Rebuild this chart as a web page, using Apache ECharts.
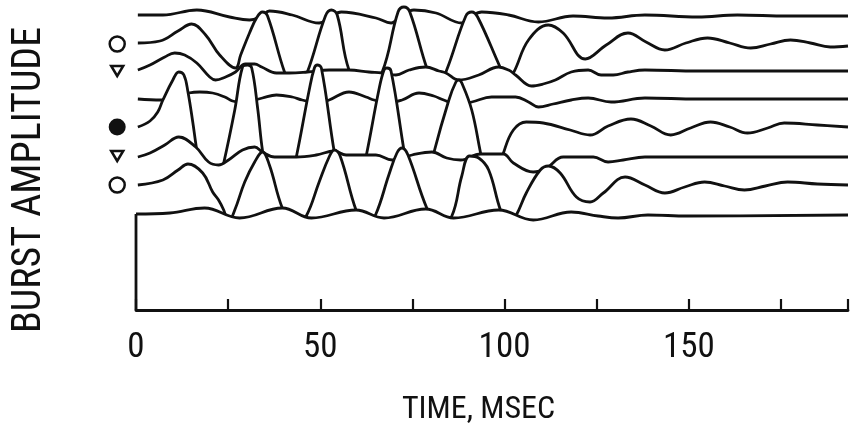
<!DOCTYPE html>
<html><head><meta charset="utf-8">
<script src="https://cdn.jsdelivr.net/npm/echarts@6/dist/echarts.min.js"></script>
<style>html,body{margin:0;padding:0;background:#fff}#c{width:851px;height:434px}</style>
</head><body><div id="c"></div>
<script>
// ---- data (time in ms, amplitude in plot units) ----
const tickLabels = ['0', '50', '100', '150'];
const traceOffsets = [294, 266, 239, 211, 183, 154, 125, 96];
const markerKinds = ['', 'openCircle', 'openTriangle', '', 'solidCircle', 'openTriangle', 'openCircle', ''];

const t1 = [0.5, 7.3, 16.5, 25.4, 30.8, 34.1, 36.2, 42.4, 49.7, 52.4, 55.7, 65.1, 69.2, 72.2, 75.4, 81.4, 88.4, 90.8, 93.8, 101.1, 109.2, 118.6, 128.1, 138.1, 152.4, 163.2, 176.8, 193.2];
const a1 = [1, 1, 6, -1, -4, 0, 5, 1, -7, -2, 4, -2, -7, 1, 6, 3, -7, -1, 4, 1, -6, 0, -2, 1, -1, 1, 0, 0];

const t2 = [0.5, 6.5, 11.4, 15.1, 18.9, 22.7, 27.0, 28.4, 30.8, 32.7, 34.3, 35.7, 40.3, 43.2, 46.5, 51.4, 53.0, 54.6, 57.8, 62.2, 66.8, 71.1, 72.7, 74.3, 78.9, 81.6, 84.3, 89.5, 91.1, 92.7, 98.9, 100.5, 102.4, 106.5, 111.9, 115.9, 121.9, 127.6, 133.5, 138.4, 143.5, 149.2, 155.1, 161.1, 166.8, 172.2, 177.6, 183.0, 188.4, 193.2];
const a2 = [1, 3, 13, 20, 9, -11, -24, -11, 11, 26, 32, 28, -28, -51, -28, 28, 34, 29, -26, -51, -28, 32, 37, 32, -24, -46, -26, 28, 32, 27, -24, -36, -29, 4, 19, 11, -15, -1, 11, 2, -6, 1, 6, 1, -4, 0, 4, 1, -3, -2];

const t3 = [0.5, 3.8, 7.8, 10.5, 13.2, 16.5, 20.0, 21.6, 24.3, 27.0, 29.7, 32.2, 34.1, 38.1, 41.6, 46.5, 52.4, 57.8, 63.2, 66.8, 70.5, 74.1, 78.6, 82.2, 84.1, 87.6, 93.0, 98.4, 101.1, 103.0, 107.3, 110.5, 113.8, 118.1, 122.7, 126.2, 129.5, 133.5, 138.1, 152.4, 168.6, 193.2];
const a3 = [1, 6, 14, 18, 16, 8, -6, -9, -6, -1, 7, 7, 4, -2, -2, -1, 1, 1, -1, -2, -4, 1, 4, 0, -2, -9, -4, 4, 1, -4, -15, -13, -9, -1, 1, -4, -4, -1, 1, 0, 0, 0];

const t4 = [0.5, 6.8, 9.2, 11.9, 14.3, 17.3, 20.8, 24.1, 26.2, 29.5, 32.2, 34.3, 38.1, 42.4, 45.1, 49.2, 52.4, 57.8, 62.4, 64.6, 68.1, 72.2, 76.8, 80.8, 83.5, 87.0, 91.1, 96.5, 103.0, 106.5, 109.2, 113.2, 118.1, 122.7, 128.9, 138.1, 152.4, 193.2];
const a4 = [0, -1, -1, 3, 6, 7, 6, 2, -2, -4, -1, 1, 4, 2, -1, -4, -1, 7, 2, -1, -4, -1, 6, 3, -1, -5, -3, 2, 2, -3, -8, -5, -1, 1, -3, 1, 0, 0];

const t5 = [0.5, 3.8, 5.9, 7.3, 10.0, 11.6, 13.0, 14.1, 15.4, 16.2, 18.1, 20.3, 22.2, 23.8, 26.8, 28.9, 30.3, 31.4, 33.0, 34.3, 36.2, 38.9, 41.6, 43.5, 47.0, 48.4, 49.2, 50.3, 53.8, 55.9, 58.1, 60.5, 62.4, 65.9, 67.3, 68.1, 69.2, 72.7, 74.6, 76.8, 78.9, 80.8, 84.9, 86.8, 87.6, 88.4, 91.1, 93.5, 95.1, 96.8, 98.4, 99.7, 102.4, 105.9, 110.5, 117.8, 123.2, 128.1, 134.3, 139.7, 145.1, 150.5, 155.9, 161.1, 165.9, 171.4, 175.9, 184.9, 193.2];
const a5 = [0, 6, 15, 27, 47, 55, 52, 35, 5, -16, -63, -73, -58, -36, 17, 60, 62, 59, 19, -23, -63, -73, -58, -30, 37, 59, 62, 59, -25, -63, -73, -58, -30, 37, 57, 59, 56, -23, -63, -73, -58, -26, 27, 45, 47, 44, 17, -26, -53, -58, -45, -26, -3, 5, 4, -3, -8, 1, 8, 1, -8, -1, 5, 0, -6, -1, 4, 2, 0];

const t6 = [0.5, 3.8, 7.8, 11.6, 16.2, 19.7, 22.4, 25.1, 28.9, 32.2, 34.3, 37.6, 43.5, 48.9, 53.8, 57.0, 65.1, 69.5, 74.9, 80.3, 84.3, 88.1, 93.5, 97.0, 99.7, 102.4, 107.8, 111.4, 115.9, 124.1, 128.1, 132.2, 138.1, 152.4, 193.2];
const a6 = [-1, 3, 11, 19, 9, -6, -9, -4, 6, 9, 4, -1, -1, 1, 5, 1, 1, -4, 1, 4, -2, -4, 2, 2, 2, -7, -16, -12, -1, -1, -6, -4, -1, -1, -1];

const t7 = [0.5, 7.3, 11.4, 14.1, 18.1, 20.8, 22.4, 23.8, 25.1, 26.8, 29.5, 32.2, 34.3, 36.2, 39.7, 43.0, 46.2, 49.7, 52.4, 53.8, 55.4, 59.7, 62.4, 65.1, 68.6, 70.8, 72.2, 73.8, 78.9, 82.2, 85.7, 88.4, 90.5, 93.0, 95.7, 98.9, 101.1, 103.2, 105.9, 109.7, 111.9, 115.1, 119.5, 123.2, 126.8, 132.7, 138.1, 143.5, 148.9, 154.3, 159.7, 165.1, 170.8, 176.8, 184.9, 193.2];
const a7 = [0, 5, 15, 21, 12, -7, -15, -25, -37, -25, 3, 23, 33, 20, -23, -43, -31, 3, 28, 35, 29, -25, -43, -29, 10, 32, 37, 30, -23, -43, -31, 9, 29, 27, 15, -25, -40, -30, -8, 15, 19, 12, -12, -17, -8, 8, 0, -8, -2, 3, -1, -5, -1, 3, 1, 0];

const t8 = [0, 9.2, 18.6, 28.1, 39.7, 47.6, 59.7, 67.3, 78.6, 86.2, 98.4, 107.8, 118.1, 125.4, 130.8, 138.9, 149.7, 193.2];
const a8 = [0, 1, 6, -4, 6, -4, 4, -4, 5, -4, 4, -6, 2, -2, -4, -1, -2, -1];

// ---- chart ----
const INK = '#111111';
const FONT = '"Roboto Condensed", "Liberation Sans Narrow", "DejaVu Sans Condensed", "Liberation Sans", sans-serif';
const traceTimes = [t1, t2, t3, t4, t5, t6, t7, t8];
const traceAmps = [a1, a2, a3, a4, a5, a6, a7, a8];
const MARKER_T = -5.1;

// back traces first; each later (lower) trace hides what lies beneath its curve
const series = traceTimes.map((ts, i) => ({
  type: 'line',
  name: 'trace ' + (i + 1),
  z: 2 + i,
  data: ts.map((t, k) => [t, traceOffsets[i] + traceAmps[i][k]]),
  smooth: 0.4,
  symbol: 'none',
  silent: true,
  lineStyle: { color: INK, width: 2.8 },
  areaStyle: { color: '#ffffff', opacity: 1, origin: 'start' }
}));

// left edge of the bottom box
series.push({
  type: 'line', z: 12,
  data: [[t8[0], 0], [t8[0], traceOffsets[7] + a8[0]]],
  symbol: 'none', silent: true, clip: false,
  lineStyle: { color: INK, width: 2.8 }
});

const markerStyles = {
  openCircle: { symbol: 'circle', symbolSize: 15, symbolRotate: 0, itemStyle: { color: '#fff', borderColor: INK, borderWidth: 2.5, opacity: 1 } },
  openTriangle: { symbol: 'triangle', symbolSize: [12, 10], symbolRotate: 180, itemStyle: { color: '#fff', borderColor: INK, borderWidth: 2.5, opacity: 1 } },
  solidCircle: { symbol: 'circle', symbolSize: 17, symbolRotate: 0, itemStyle: { color: INK, borderColor: INK, borderWidth: 0, opacity: 1 } }
};
const markerData = [];
markerKinds.forEach((k, i) => {
  if (!k) return;
  markerData.push(Object.assign({ value: [MARKER_T, traceOffsets[i]] }, markerStyles[k]));
});
series.push({ type: 'scatter', clip: false, silent: true, z: 14, itemStyle: { opacity: 1 }, data: markerData });

const chart = echarts.init(document.getElementById('c'), null, { renderer: 'canvas' });
chart.setOption({
  animation: false,
  backgroundColor: '#ffffff',
  grid: { left: 136, right: 0, top: 0, bottom: 124, containLabel: false },
  xAxis: {
    type: 'value', min: 0, max: 193.2, interval: 25, z: 20,
    axisLine: { show: true, onZero: false, lineStyle: { color: INK, width: 2.8 } },
    axisTick: { show: true, inside: true, length: 11, lineStyle: { color: INK, width: 2.2 } },
    axisLabel: {
      margin: 21, fontSize: 35, color: INK, fontFamily: FONT,
      formatter: v => tickLabels.includes(String(v)) ? String(v) : ''
    },
    splitLine: { show: false },
    name: 'TIME, MSEC', nameLocation: 'middle', nameGap: 84,
    nameTextStyle: { fontSize: 32, color: INK, fontFamily: FONT, padding: [0, 27, 0, 0] }
  },
  yAxis: {
    type: 'value', min: 0, max: 310, show: true,
    axisLine: { show: false }, axisTick: { show: false }, axisLabel: { show: false }, splitLine: { show: false },
    name: 'BURST AMPLITUDE', nameLocation: 'middle', nameRotate: 90, nameGap: 86,
    nameTextStyle: { fontSize: 40, color: INK, fontFamily: FONT, padding: [0, 50, 0, 0] }
  },
  series: series
});
</script>
</body></html>
